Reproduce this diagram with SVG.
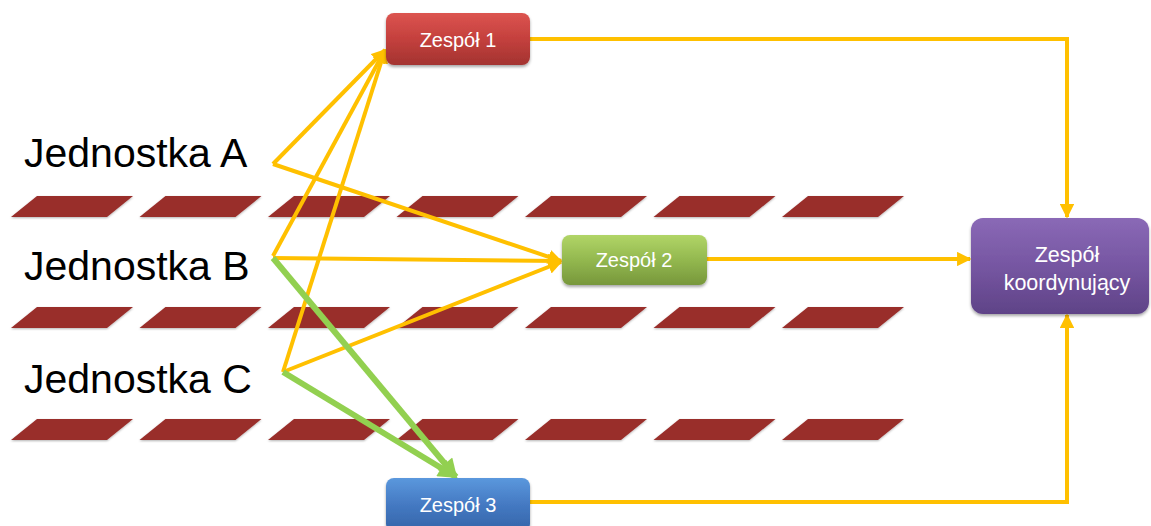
<svg xmlns="http://www.w3.org/2000/svg" width="1151" height="526" viewBox="0 0 1151 526">
<style>
.lbl{font-family:"Liberation Sans","Open Sans",sans-serif;font-size:41px;fill:#000}
.bt{font-family:"Liberation Sans","Open Sans",sans-serif;font-size:20px;fill:#fff;text-anchor:middle}
.bk{font-size:21.5px}
.or{stroke:#ffc000;stroke-width:4;fill:none;marker-end:url(#ao)}
.gr{stroke:#92d050;stroke-width:6;fill:none;marker-end:url(#ag)}
.par{fill:#992e2b;filter:url(#ps)}
</style>
<defs>
<marker id="ao" viewBox="0 0 10 10" refX="9" refY="5" markerWidth="3.6" markerHeight="3.6" orient="auto" markerUnits="strokeWidth"><path d="M0,0 L10,5 L0,10 z" fill="#ffc000"/></marker>
<marker id="ag" viewBox="0 0 10 10" refX="9" refY="5" markerWidth="3.4" markerHeight="3.2" orient="auto" markerUnits="strokeWidth"><path d="M0,0 L10,5 L0,10 z" fill="#92d050"/></marker>
<linearGradient id="gR" x1="0" y1="0" x2="0" y2="1"><stop offset="0" stop-color="#dc5450"/><stop offset="0.5" stop-color="#c4403d"/><stop offset="1" stop-color="#a33330"/></linearGradient>
<linearGradient id="gG" x1="0" y1="0" x2="0" y2="1"><stop offset="0" stop-color="#b1d567"/><stop offset="0.5" stop-color="#93b84f"/><stop offset="1" stop-color="#77973b"/></linearGradient>
<linearGradient id="gB" x1="0" y1="0" x2="0" y2="1"><stop offset="0" stop-color="#5b98dd"/><stop offset="0.5" stop-color="#4479c2"/><stop offset="1" stop-color="#3464a8"/></linearGradient>
<linearGradient id="gP" x1="0" y1="0" x2="0" y2="1"><stop offset="0" stop-color="#8a69b6"/><stop offset="0.5" stop-color="#7656a2"/><stop offset="1" stop-color="#5f4387"/></linearGradient>
<filter id="sh" x="-10%" y="-10%" width="125%" height="140%"><feDropShadow dx="0" dy="2" stdDeviation="1.8" flood-color="#000" flood-opacity="0.35"/></filter>
<filter id="ps" x="-10%" y="-30%" width="120%" height="170%"><feDropShadow dx="0" dy="1" stdDeviation="0.8" flood-color="#000" flood-opacity="0.3"/></filter>
</defs>
<g id="stripes">
<g id="row1">
<polygon class="par" points="11,217 37,196 133,196 107,217"/>
<polygon class="par" points="139.5,217 165.5,196 261.5,196 235.5,217"/>
<polygon class="par" points="268,217 294,196 390,196 364,217"/>
<polygon class="par" points="396.5,217 422.5,196 518.5,196 492.5,217"/>
<polygon class="par" points="525,217 551,196 647,196 621,217"/>
<polygon class="par" points="653.5,217 679.5,196 775.5,196 749.5,217"/>
<polygon class="par" points="782,217 808,196 904,196 878,217"/>
</g>
<g id="row2">
<polygon class="par" points="11,328 37,307 133,307 107,328"/>
<polygon class="par" points="139.5,328 165.5,307 261.5,307 235.5,328"/>
<polygon class="par" points="268,328 294,307 390,307 364,328"/>
<polygon class="par" points="396.5,328 422.5,307 518.5,307 492.5,328"/>
<polygon class="par" points="525,328 551,307 647,307 621,328"/>
<polygon class="par" points="653.5,328 679.5,307 775.5,307 749.5,328"/>
<polygon class="par" points="782,328 808,307 904,307 878,328"/>
</g>
<g id="row3">
<polygon class="par" points="11,440 37,419 133,419 107,440"/>
<polygon class="par" points="139.5,440 165.5,419 261.5,419 235.5,440"/>
<polygon class="par" points="268,440 294,419 390,419 364,440"/>
<polygon class="par" points="396.5,440 422.5,419 518.5,419 492.5,440"/>
<polygon class="par" points="525,440 551,419 647,419 621,440"/>
<polygon class="par" points="653.5,440 679.5,419 775.5,419 749.5,440"/>
<polygon class="par" points="782,440 808,419 904,419 878,440"/>
</g>
</g>
<g id="jednostka-a"><text class="lbl" x="24" y="167">Jednostka A</text></g>
<g id="jednostka-b"><text class="lbl" x="24" y="280">Jednostka B</text></g>
<g id="jednostka-c"><text class="lbl" x="24" y="393">Jednostka C</text></g>
<g id="connectors">
<line class="or" x1="273" y1="164" x2="385" y2="50"/>
<line class="or" x1="273" y1="164" x2="561" y2="261"/>
<line class="or" x1="273" y1="256" x2="385" y2="50"/>
<line class="or" x1="273" y1="258" x2="561" y2="261"/>
<line class="or" x1="283" y1="372" x2="385" y2="50"/>
<line class="or" x1="283" y1="372" x2="561" y2="262"/>
<line class="gr" x1="273" y1="258" x2="456" y2="477"/>
<line class="gr" x1="283" y1="372" x2="456" y2="477"/>
<polyline class="or" points="530,39 1067,39 1067,217"/>
<line class="or" x1="707" y1="259" x2="970" y2="259"/>
<polyline class="or" points="530,502 1067,502 1067,315"/>
</g>
<g id="zespol-1">
<rect x="386" y="13" width="144" height="52" rx="8" fill="url(#gR)" filter="url(#sh)"/>
<text class="bt" x="458" y="47">Zespół 1</text>
</g>
<g id="zespol-2">
<rect x="562" y="235" width="145" height="50" rx="8" fill="url(#gG)" filter="url(#sh)"/>
<text class="bt" x="634" y="267">Zespół 2</text>
</g>
<g id="zespol-3">
<rect x="386" y="478" width="144" height="54" rx="8" fill="url(#gB)" filter="url(#sh)"/>
<text class="bt" x="458" y="512">Zespół 3</text>
</g>
<g id="zespol-koordynujacy">
<rect x="971" y="218" width="178" height="96" rx="12" fill="url(#gP)" filter="url(#sh)"/>
<text class="bt bk" x="1067" y="262">Zespół</text>
<text class="bt bk" x="1067" y="290">koordynujący</text>
</g>
</svg>
